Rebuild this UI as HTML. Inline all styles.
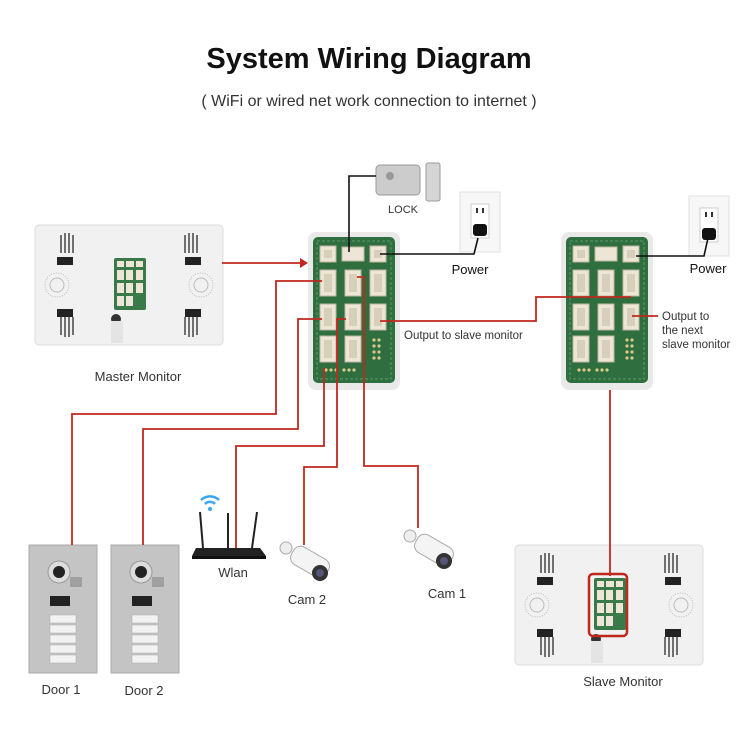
<!DOCTYPE html>
<html><head><meta charset="utf-8"><style>
html,body{margin:0;padding:0;background:#fff;width:750px;height:735px;overflow:hidden}
svg{display:block}
text{font-family:"Liberation Sans",sans-serif;fill:#333}
</style></head><body>
<svg width="750" height="735" viewBox="0 0 750 735" xmlns="http://www.w3.org/2000/svg">
<defs>
<g id="conn"><rect x="0" y="0" width="16" height="26" fill="#ede6d6" stroke="#bdb5a3" stroke-width="1"/><rect x="4" y="4" width="8" height="18" fill="#d8cfbb"/></g>
<g id="connS"><rect x="0" y="0" width="16" height="16" fill="#ede6d6" stroke="#bdb5a3"/><rect x="4" y="4" width="8" height="8" fill="#d8cfbb"/></g>
<g id="board">
<rect x="0" y="0" width="92" height="158" rx="8" fill="#e9e9e9"/>
<rect x="5" y="5" width="82" height="146" rx="5" fill="#2e6e3f"/>
<rect x="9" y="9" width="74" height="138" fill="none" stroke="#5f9a6b" stroke-dasharray="3 2"/>
<use href="#connS" x="12" y="14"/><rect x="34" y="15" width="22" height="14" fill="#ede6d6" stroke="#bdb5a3"/><use href="#connS" x="62" y="14"/>
<use href="#conn" x="12" y="38"/><use href="#conn" x="37" y="38"/><use href="#conn" x="62" y="38"/>
<use href="#conn" x="12" y="72"/><use href="#conn" x="37" y="72"/><use href="#conn" x="62" y="72"/>
<use href="#conn" x="12" y="104"/><use href="#conn" x="37" y="104"/>
<g fill="#d9c98a"><circle cx="66" cy="108" r="1.6"/><circle cx="71" cy="108" r="1.6"/><circle cx="66" cy="114" r="1.6"/><circle cx="71" cy="114" r="1.6"/><circle cx="66" cy="120" r="1.6"/><circle cx="71" cy="120" r="1.6"/><circle cx="66" cy="126" r="1.6"/><circle cx="71" cy="126" r="1.6"/>
<circle cx="18" cy="138" r="1.6"/><circle cx="23" cy="138" r="1.6"/><circle cx="28" cy="138" r="1.6"/><circle cx="36" cy="138" r="1.6"/><circle cx="41" cy="138" r="1.6"/><circle cx="46" cy="138" r="1.6"/></g>
</g>
<g id="monitor">
<rect x="0" y="0" width="188" height="120" rx="4" fill="#f1f1f1" stroke="#ddd"/>
<g stroke="#444" stroke-width="1.5"><line x1="26" y1="10" x2="26" y2="28"/><line x1="30" y1="8" x2="30" y2="28"/><line x1="34" y1="8" x2="34" y2="28"/><line x1="38" y1="10" x2="38" y2="28"/>
<line x1="150" y1="10" x2="150" y2="28"/><line x1="154" y1="8" x2="154" y2="28"/><line x1="158" y1="8" x2="158" y2="28"/><line x1="162" y1="10" x2="162" y2="28"/>
<line x1="26" y1="92" x2="26" y2="110"/><line x1="30" y1="92" x2="30" y2="112"/><line x1="34" y1="92" x2="34" y2="112"/><line x1="38" y1="92" x2="38" y2="110"/>
<line x1="150" y1="92" x2="150" y2="110"/><line x1="154" y1="92" x2="154" y2="112"/><line x1="158" y1="92" x2="158" y2="112"/><line x1="162" y1="92" x2="162" y2="110"/></g>
<rect x="22" y="32" width="16" height="8" fill="#222"/><rect x="150" y="32" width="16" height="8" fill="#222"/><rect x="22" y="84" width="16" height="8" fill="#222"/><rect x="150" y="84" width="16" height="8" fill="#222"/>
<circle cx="22" cy="60" r="12" fill="none" stroke="#bbb" stroke-dasharray="1 1.5"/><circle cx="22" cy="60" r="7" fill="none" stroke="#bbb"/>
<circle cx="166" cy="60" r="12" fill="none" stroke="#bbb" stroke-dasharray="1 1.5"/><circle cx="166" cy="60" r="7" fill="none" stroke="#bbb"/>
<rect x="79" y="33" width="32" height="52" rx="2" fill="#3a7a48"/>
<g fill="#ede6d6"><rect x="82" y="36" width="7" height="6"/><rect x="91" y="36" width="8" height="6"/><rect x="101" y="36" width="7" height="6"/>
<rect x="82" y="45" width="7" height="10"/><rect x="91" y="45" width="7" height="10"/><rect x="101" y="45" width="7" height="10"/>
<rect x="82" y="58" width="7" height="10"/><rect x="91" y="58" width="7" height="10"/><rect x="101" y="58" width="7" height="10"/>
<rect x="82" y="71" width="7" height="10"/><rect x="91" y="71" width="7" height="10"/></g>
<circle cx="81" cy="94" r="5" fill="#333"/><rect x="76" y="96" width="12" height="22" fill="#e4e4e4"/>
</g>
<g id="door">
<rect x="0" y="0" width="68" height="128" fill="#c4c4c4" stroke="#aaa"/>
<circle cx="30" cy="27" r="11" fill="#ddd" stroke="#999"/><circle cx="30" cy="27" r="6" fill="#222"/>
<rect x="41" y="32" width="12" height="10" fill="#888" opacity=".6"/>
<rect x="21" y="51" width="20" height="10" fill="#222"/>
<g fill="#f2f2f2" stroke="#aaa" stroke-width=".5"><rect x="21" y="70" width="26" height="8"/><rect x="21" y="80" width="26" height="8"/><rect x="21" y="90" width="26" height="8"/><rect x="21" y="100" width="26" height="8"/><rect x="21" y="110" width="26" height="8"/></g>
</g>
<g id="cam">
<rect x="10" y="12" width="40" height="20" rx="8" fill="#f4f4f4" stroke="#aaa" transform="rotate(30 30 22)"/>
<circle cx="6" cy="8" r="6" fill="#eee" stroke="#aaa"/>
<circle cx="40" cy="33" r="8" fill="#333"/><circle cx="40" cy="33" r="4" fill="#557"/>
</g>
<g id="outlet"><rect x="0" y="0" width="40" height="60" fill="#f7f7f7" stroke="#e2e2e2"/><rect x="11" y="12" width="18" height="34" fill="#fff" stroke="#ccc"/><rect x="16" y="16" width="2" height="5" fill="#333"/><rect x="22" y="16" width="2" height="5" fill="#333"/><rect x="13" y="32" width="14" height="12" rx="3" fill="#111"/></g>
</defs>

<text x="369" y="68" font-size="29" font-weight="bold" text-anchor="middle" style="fill:#111">System Wiring Diagram</text>
<text x="369" y="106" font-size="16" text-anchor="middle" style="fill:#333">( WiFi or wired net work connection to internet )</text>

<!-- lock -->
<rect x="376" y="165" width="44" height="30" rx="4" fill="#ccc" stroke="#999"/><circle cx="390" cy="176" r="4" fill="#999"/>
<rect x="426" y="163" width="14" height="38" rx="2" fill="#d5d5d5" stroke="#999"/>
<text x="403" y="213" font-size="11" text-anchor="middle">LOCK</text>
<use href="#outlet" x="460" y="192"/>
<use href="#outlet" x="689" y="196"/>
<text x="470" y="274" font-size="13" text-anchor="middle" style="fill:#111">Power</text>
<text x="708" y="273" font-size="13" text-anchor="middle" style="fill:#111">Power</text>

<use href="#monitor" x="35" y="225"/>
<text x="138" y="381" font-size="13" text-anchor="middle">Master Monitor</text>
<use href="#board" x="308" y="232"/>
<use href="#board" x="561" y="232"/>

<use href="#monitor" x="515" y="545"/>
<rect x="589" y="574" width="38" height="62" rx="4" fill="none" stroke="#c0281e" stroke-width="2.5"/>
<text x="623" y="686" font-size="13" text-anchor="middle">Slave Monitor</text>

<use href="#door" x="29" y="545"/><use href="#door" x="111" y="545"/>
<text x="61" y="694" font-size="13" text-anchor="middle">Door 1</text>
<text x="144" y="695" font-size="13" text-anchor="middle">Door 2</text>

<!-- router -->
<path d="M196 548 L260 548 L266 556 L192 556 Z" fill="#222"/><rect x="192" y="556" width="74" height="3" fill="#111"/>
<line x1="203" y1="548" x2="200" y2="512" stroke="#222" stroke-width="2"/><line x1="228" y1="548" x2="228" y2="513" stroke="#222" stroke-width="2"/><line x1="252" y1="548" x2="257" y2="512" stroke="#222" stroke-width="2"/>
<path d="M201 500 a13 13 0 0 1 18 0" fill="none" stroke="#3aa7ee" stroke-width="2.5"/><path d="M205 504 a7 7 0 0 1 10 0" fill="none" stroke="#3aa7ee" stroke-width="2.5"/><circle cx="210" cy="509" r="2" fill="#3aa7ee"/>
<text x="233" y="577" font-size="13" text-anchor="middle">Wlan</text>
<use href="#cam" x="280" y="540"/><text x="307" y="604" font-size="13" text-anchor="middle">Cam 2</text>
<use href="#cam" x="404" y="528"/><text x="447" y="598" font-size="13" text-anchor="middle">Cam 1</text>

<!-- black wires -->
<g fill="none" stroke="#111" stroke-width="1.6">
<polyline points="349,252 349,176 376,176"/>
<polyline points="380,254 474,254 478,238"/>
<polyline points="636,256 704,256 708,238"/>
</g>
<!-- red wires -->
<g fill="none" stroke="#c0281e" stroke-width="1.8">
<line x1="222" y1="263" x2="300" y2="263"/>
<polyline points="72,545 72,414 276,414 276,281 322,281"/>
<polyline points="143,545 143,429 298,429 298,319 322,319"/>
<polyline points="236,548 236,446 324,446 324,368"/>
<polyline points="304,545 304,467 337,467 337,319 346,319"/>
<polyline points="418,528 418,466 364,466 364,277 357,277"/>
<polyline points="380,321 536,321 536,297 631,297"/>
<line x1="632" y1="316" x2="658" y2="316"/>
<line x1="610" y1="390" x2="610" y2="576"/>
</g>
<path d="M300 258 L308 263 L300 268 Z" fill="#c0281e"/>
<text x="404" y="339" font-size="11.5">Output to slave monitor</text>
<text x="662" y="320" font-size="11.5">Output to</text>
<text x="662" y="334" font-size="11.5">the next</text>
<text x="662" y="348" font-size="11.5">slave monitor</text>
</svg>
</body></html>
